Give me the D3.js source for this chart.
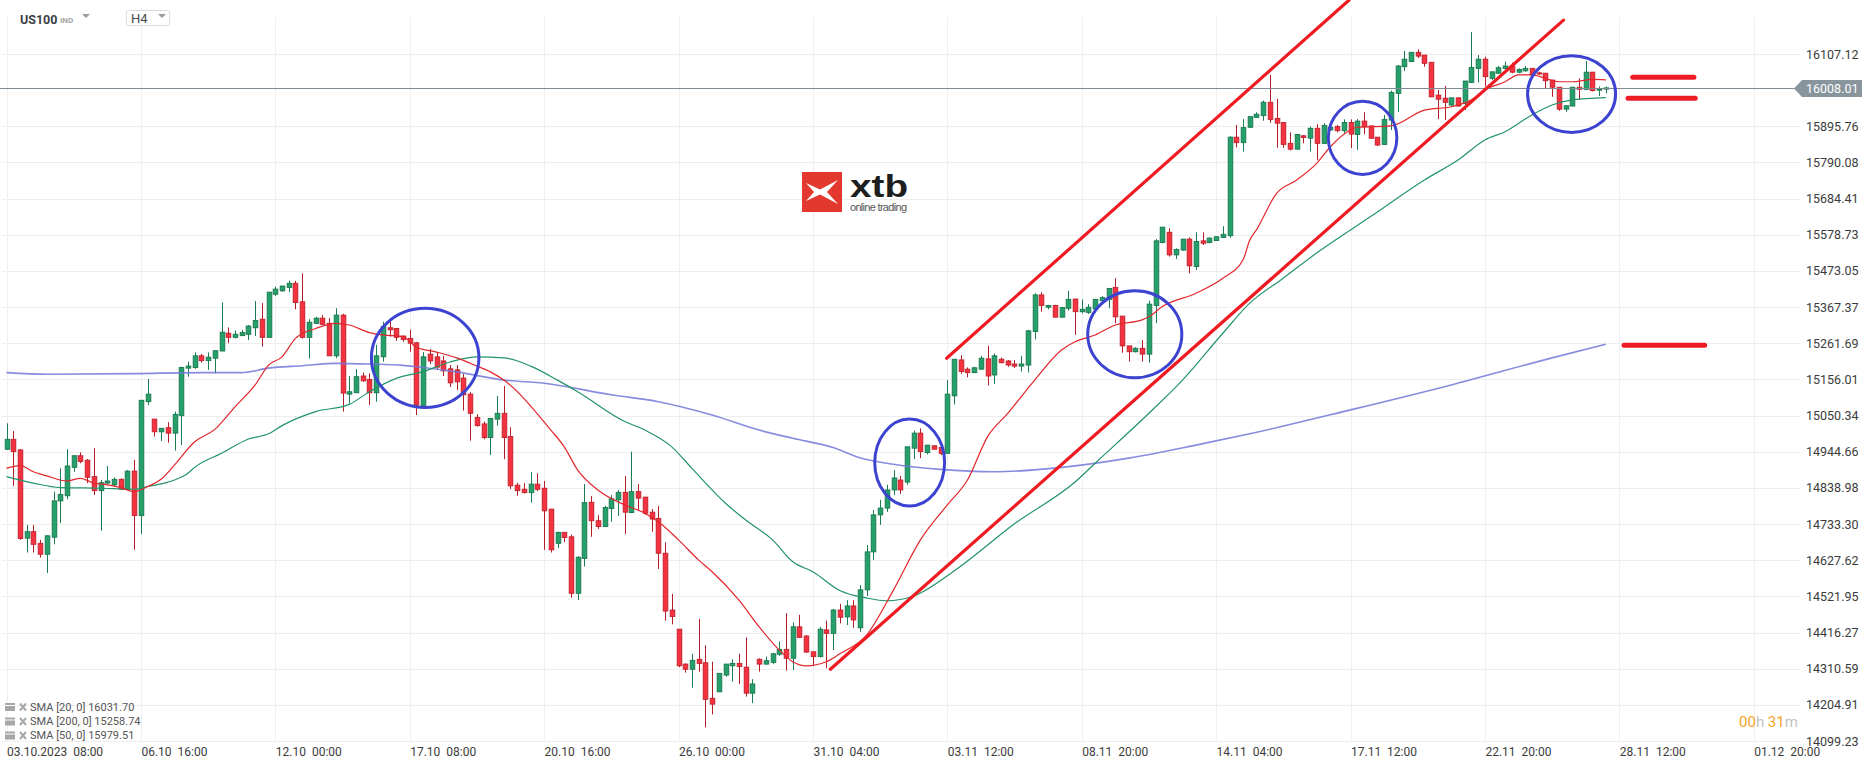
<!DOCTYPE html>
<meta charset="utf-8">
<style>
body { margin: 0; background: #fff; }
svg { display: block; font-family: Roboto, "Noto Sans", sans-serif; }
</style>
<svg width="1866" height="767"></svg>
<script src="https://cdn.jsdelivr.net/npm/d3@7"></script>
<script>

// price axis labels (the 16001.44 one is hidden behind the last price tag)
var priceTicks = [16107.12, 15895.76, 15790.08, 15684.41, 15578.73, 15473.05, 15367.37, 15261.69,
  15156.01, 15050.34, 14944.66, 14838.98, 14733.30, 14627.62, 14521.95, 14416.27, 14310.59, 14204.91, 14099.23];

// one label every 20 H4 candles
var timeLabels = ["03.10.2023  08:00", "06.10  16:00", "12.10  00:00", "17.10  08:00", "20.10  16:00",
  "26.10  00:00", "31.10  04:00", "03.11  12:00", "08.11  20:00", "14.11  04:00", "17.11  12:00",
  "22.11  20:00", "28.11  12:00", "01.12  20:00"];

var lastPrice = 16008.01;

// H4 candles [open, high, low, close]
var ohlc = [
  [14952,15028,14950,14981],[14981,15005,14845,14945],[14950,14952,14687,14691],[14692,14731,14650,14711],
  [14711,14731,14650,14674],[14677,14687,14635,14645],[14645,14700,14590,14699],[14695,14828,14674,14801],
  [14801,14896,14736,14820],[14816,14952,14806,14903],[14899,14933,14886,14933],[14933,14943,14911,14916],
  [14920,14923,14853,14870],[14872,14955,14818,14831],[14831,14862,14714,14854],[14853,14903,14850,14859],
  [14848,14870,14843,14864],[14864,14867,14833,14835],[14835,14891,14833,14888],[14888,14921,14658,14758],
  [14758,15095,14704,15095],[15091,15157,15081,15113],[15040,15040,14989,15003],[15003,15013,14976,15013],
  [15015,15031,14971,14999],[14999,15062,14948,15054],[15050,15193,14964,15191],[15189,15208,15164,15195],
  [15191,15235,15187,15225],[15225,15230,15205,15211],[15211,15235,15184,15221],[15218,15240,15174,15240],
  [15239,15381,15239,15294],[15291,15308,15262,15279],[15279,15299,15276,15288],[15284,15301,15283,15293],
  [15288,15315,15271,15312],[15307,15385,15283,15328],[15332,15379,15252,15279],[15279,15412,15279,15411],
  [15405,15427,15400,15420],[15415,15429,15412,15429],[15425,15445,15411,15437],[15437,15444,15361,15381],
  [15383,15466,15276,15279],[15279,15332,15217,15323],[15320,15339,15318,15335],[15335,15344,15315,15317],
  [15320,15335,15225,15225],[15225,15364,15218,15344],[15344,15348,15062,15116],[15113,15166,15086,15120],
  [15117,15186,15117,15164],[15166,15176,15149,15152],[15156,15174,15081,15117],[15117,15257,15091,15225],
  [15222,15325,15208,15310],[15307,15335,15281,15301],[15305,15305,15269,15279],[15283,15283,15266,15273],
  [15276,15301,15237,15262],[15263,15266,15052,15081],[15078,15236,15072,15222],[15230,15245,15201,15210],
  [15222,15236,15184,15192],[15210,15225,15166,15181],[15187,15198,15134,15146],[15184,15198,15125,15149],
  [15160,15172,15065,15111],[15113,15119,14977,15057],[15045,15054,15018,15021],[15026,15033,14981,14986],
  [14986,15042,14935,15042],[15040,15108,15021,15057],[15057,15137,14923,14986],[14989,15016,14836,14845],
  [14847,14854,14816,14831],[14835,14853,14823,14825],[14825,14885,14796,14850],[14850,14882,14830,14835],
  [14838,14859,14658,14772],[14777,14777,14650,14658],[14677,14711,14663,14709],[14709,14709,14680,14694],
  [14696,14703,14518,14531],[14531,14640,14511,14636],[14633,14850,14609,14796],[14797,14815,14696,14743],
  [14743,14759,14719,14726],[14726,14786,14725,14782],[14779,14818,14740,14807],[14804,14833,14757,14826],
  [14826,14874,14704,14768],[14767,14945,14765,14828],[14828,14850,14774,14809],[14812,14812,14760,14765],
  [14768,14777,14711,14748],[14750,14786,14602,14648],[14648,14680,14451,14479],[14482,14529,14440,14463],
  [14426,14426,14315,14319],[14324,14326,14299,14309],[14309,14354,14255,14335],[14338,14456,14302,14326],
  [14328,14379,14139,14221],[14224,14331,14177,14207],[14243,14297,14243,14297],[14292,14324,14287,14324],
  [14319,14338,14273,14326],[14326,14354,14266,14317],[14315,14402,14229,14239],[14239,14280,14210,14266],
  [14338,14341,14302,14324],[14324,14346,14322,14334],[14329,14357,14324,14354],[14353,14390,14348,14367],
  [14367,14473,14305,14341],[14341,14446,14307,14433],[14433,14468,14400,14402],[14406,14409,14357,14359],
  [14360,14360,14319,14346],[14346,14433,14343,14426],[14424,14451,14312,14414],[14414,14485,14365,14482],
  [14482,14500,14443,14461],[14462,14511,14438,14494],[14494,14511,14430,14453],[14430,14555,14418,14541],
  [14541,14672,14523,14652],[14652,14774,14628,14760],[14760,14804,14731,14780],[14780,14848,14769,14833],
  [14833,14891,14818,14868],[14862,14874,14821,14833],[14856,14959,14848,14959],[14955,15006,14923,14999],
  [14999,15013,14926,14945],[14942,14964,14937,14964],[14962,14963,14952,14952],[14957,14958,14935,14940],
  [14940,15154,14940,15113],[15108,15215,15083,15215],[15213,15227,15172,15179],[15186,15191,15162,15176],
  [15176,15193,15174,15190],[15186,15225,15184,15218],[15216,15254,15138,15166],[15169,15232,15143,15225],
  [15215,15220,15203,15205],[15210,15213,15193,15198],[15201,15213,15189,15195],[15195,15225,15179,15201],
  [15198,15301,15176,15298],[15296,15408,15273,15403],[15403,15411,15354,15372],[15367,15374,15361,15372],
  [15372,15374,15338,15338],[15338,15368,15336,15366],[15364,15415,15357,15390],[15391,15391,15286,15354],
  [15354,15390,15349,15361],[15352,15376,15347,15367],[15362,15390,15359,15390],[15386,15400,15383,15395],
  [15390,15422,15364,15422],[15425,15452,15320,15339],[15341,15341,15234,15254],[15254,15254,15208,15237],
  [15237,15250,15235,15247],[15247,15271,15208,15230],[15230,15386,15205,15376],[15372,15566,15320,15561],
  [15556,15601,15554,15601],[15586,15598,15515,15520],[15520,15539,15508,15536],[15534,15566,15532,15566],
  [15566,15571,15466,15488],[15486,15586,15476,15559],[15561,15586,15549,15554],[15556,15571,15554,15569],
  [15562,15573,15561,15573],[15571,15604,15569,15580],[15576,15867,15570,15864],[15864,15900,15834,15848],
  [15848,15917,15822,15892],[15893,15924,15891,15924],[15922,15937,15921,15931],[15927,15971,15912,15966],
  [15966,16046,15906,15916],[15919,15976,15833,15905],[15907,15908,15833,15843],[15846,15878,15825,15829],
  [15829,15873,15828,15872],[15868,15870,15846,15863],[15861,15895,15822,15890],[15890,15902,15797,15846],
  [15846,15905,15844,15898],[15885,15900,15882,15893],[15895,15900,15878,15883],[15883,15916,15875,15907],
  [15907,15916,15832,15873],[15872,15917,15827,15911],[15911,15937,15873,15895],[15897,15897,15859,15861],
  [15864,15864,15838,15841],[15843,15929,15841,15916],[15914,16000,15885,15995],[15992,16075,15938,16072],
  [16070,16116,16057,16092],[16085,16112,16084,16112],[16112,16121,16095,16101],[16104,16104,16070,16080],
  [16083,16083,15981,15982],[15987,16002,15917,15975],[15978,16014,15914,15966],[15958,15979,15955,15979],
  [15979,15980,15953,15955],[15963,16028,15943,16028],[16024,16171,16024,16068],[16065,16104,16024,16092],
  [16092,16099,16012,16041],[16036,16055,16031,16055],[16051,16072,16049,16067],[16065,16085,16062,16072],
  [16072,16082,16051,16054],[16054,16065,16051,16062],[16058,16072,16055,16065],[16065,16066,16041,16046],
  [16052,16055,16046,16049],[16051,16051,16005,16029],[16031,16031,15982,16010],[16010,16010,15941,15946],
  [15946,15956,15938,15956],[15955,16010,15955,16010],[16010,16036,15973,16004],[16004,16087,16002,16054],
  [16054,16054,15998,16000],[16002,16012,15984,16005],[16005,16012,15992,16008.01]
];

// moving averages as [candle index, price]
var sma20 = [[0,14896],[2,14904],[4,14886],[6,14874],[9,14859],[11,14867],[13,14853],[15,14848],[17,14840],
  [19,14828],[21,14843],[23,14864],[25,14906],[28,14974],[31,15010],[34,15076],[37,15140],[39,15198],
  [41,15222],[43,15276],[46,15305],[49,15320],[51,15315],[54,15293],[56,15286],[59,15281],[61,15250],
  [64,15236],[67,15219],[70,15195],[72,15178],[74,15154],[81,15008],[83,14959],[85,14891],[88,14833],
  [92,14789],[95,14765],[97,14740],[100,14687],[103,14628],[105,14594],[109,14511],[112,14433],[115,14365],
  [117,14331],[119,14319],[122,14331],[124,14354],[128,14409],[132,14541],[136,14687],[140,14789],
  [143,14862],[146,14989],[149,15057],[153,15154],[157,15242],[159,15266],[162,15286],[165,15315],
  [169,15330],[170,15339],[172,15369],[177,15408],[181,15452],[184,15505],[185,15563],[186,15593],
  [189,15700],[192,15739],[195,15788],[197,15836],[200,15885],[201,15893],[206,15897],[211,15943],
  [215,15953],[218,15973],[220,16002],[223,16026],[225,16046],[227,16046],[229,16036],[231,16026],
  [233,16026],[236,16033],[238,16031.70]];

var sma50 = [[0,14872],[4,14853],[8,14840],[14,14838],[19,14835],[21,14843],[25,14862],[27,14882],
  [28,14899],[32,14940],[36,14982],[39,14997],[41,15021],[46,15062],[51,15083],[54,15120],[58,15159],
  [62,15179],[66,15207],[70,15222],[74,15219],[78,15195],[82,15154],[85,15120],[92,15033],[95,15008],
  [99,14959],[102,14896],[107,14794],[110,14745],[114,14687],[117,14623],[120,14594],[124,14539],
  [128,14517],[131,14509],[135,14523],[141,14596],[150,14734],[159,14856],[162,14911],[170,15057],
  [175,15154],[181,15291],[185,15379],[190,15452],[195,15526],[200,15593],[203,15632],[211,15739],
  [216,15797],[220,15856],[223,15880],[227,15929],[230,15958],[233,15973],[238,15979.51]];

var sma200 = [[0,15176],[6,15171],[19,15173],[29,15176],[35,15176],[39,15189],[44,15196],[49,15203],
  [54,15201],[59,15197],[61,15193],[67,15178],[74,15154],[80,15145],[90,15111],[97,15091],[105,15052],
  [112,15008],[117,14984],[123,14957],[127,14927],[132,14908],[139,14893],[147,14886],[157,14899],
  [167,14926],[177,14964],[185,14997],[200,15067],[215,15140],[230,15219],[238,15258.74]];

var smaLegend = [["SMA [20, 0] 16031.70"], ["SMA [200, 0] 15258.74"], ["SMA [50, 0] 15979.51"]];

// hand drawn annotations: trend channel, marked zones and level dashes
var channelUpper = [[139.9, 15218], [199.8, 16265]];
var channelLower = [[122.6, 14309], [231.7, 16206]];
var zones = [ // [index, price, radius in candles, radius in price]
  [62.3, 15219, 8.0, 145], [134.4, 14913, 5.2, 127], [167.9, 15288, 7.0, 127],
  [201.8, 15862, 5.1, 107], [232.9, 15990, 6.55, 112]];
var levels = [[16039, 242, 251.1], [15978, 241.3, 251.3], [15256, 240.7, 252.7]];

var svg = d3.select("svg");
var x = d3.scaleLinear().domain([0, 260]).range([6.5, 1753.7]);
var y = d3.scaleLinear().domain([14099.23, 16107.12]).range([741, 54]);

// grid
svg.append("g").selectAll("line").data(priceTicks).enter().append("line")
    .attr("x1", 2).attr("x2", 1800)
    .attr("y1", function(d) { return Math.round(y(d)) + 0.5; })
    .attr("y2", function(d) { return Math.round(y(d)) + 0.5; })
    .attr("stroke", "#eeeeee");

svg.append("g").selectAll("line").data(d3.range(0, 261, 20)).enter().append("line")
    .attr("x1", function(d) { return Math.round(x(d)) + 0.5; })
    .attr("x2", function(d) { return Math.round(x(d)) + 0.5; })
    .attr("y1", 17).attr("y2", 742)
    .attr("stroke", "#efefef");

// axes
var yAxis = svg.append("g")
    .attr("transform", "translate(1806,0)")
    .call(d3.axisRight(y).tickValues(priceTicks).tickSize(0).tickPadding(0).tickFormat(d3.format(".2f")));
yAxis.select(".domain").remove();
yAxis.selectAll("text")
    .attr("font-family", "Roboto, sans-serif")
    .attr("font-size", 12.5)
    .attr("fill", "#3b3b3b");

var xAxis = svg.append("g")
    .attr("transform", "translate(0,741)")
    .call(d3.axisBottom(x).tickValues(d3.range(0, 261, 20)).tickSize(0).tickPadding(0)
      .tickFormat(function(d, k) { return timeLabels[k]; }));
xAxis.select(".domain").remove();
xAxis.selectAll("text")
    .attr("text-anchor", "start")
    .attr("y", 15).attr("dy", 0)
    .style("white-space", "pre")
    .attr("font-family", "Roboto, sans-serif")
    .attr("font-size", 12)
    .attr("fill", "#3b3b3b");

// candles
var up = { body: "#26a06b", edge: "#17774d", wick: "#1b7d54" };
var down = { body: "#f5323f", edge: "#c1202c", wick: "#b31d28" };

var candle = svg.append("g").selectAll("g")
    .data(ohlc).enter().append("g")
    .each(function(d, i) {
      var c = d[3] >= d[0] ? up : down;
      var g = d3.select(this);
      var cx = Math.round(x(i)) + 0.5;
      g.append("line")
          .attr("x1", cx).attr("x2", cx)
          .attr("y1", y(d[1])).attr("y2", y(d[2]))
          .attr("stroke", c.wick).attr("stroke-width", 1);
      var top = y(Math.max(d[0], d[3])), bot = y(Math.min(d[0], d[3]));
      g.append("rect")
          .attr("x", cx - 2.3).attr("width", 4.6)
          .attr("y", top).attr("height", Math.max(1.2, bot - top))
          .attr("fill", c.body).attr("stroke", c.edge).attr("stroke-width", 0.9);
    });

// moving averages
var line = d3.line()
    .x(function(d) { return x(d[0]); })
    .y(function(d) { return y(d[1]); })
    .curve(d3.curveMonotoneX);

svg.append("path").datum(sma200).attr("d", line)
    .attr("fill", "none").attr("stroke", "#7178d8").attr("stroke-width", 1.6).attr("opacity", 0.85);
svg.append("path").datum(sma50).attr("d", line)
    .attr("fill", "none").attr("stroke", "#23946a").attr("stroke-width", 1.2);
svg.append("path").datum(sma20).attr("d", line)
    .attr("fill", "none").attr("stroke", "#e3262b").attr("stroke-width", 1.2);

// last price line and tag
var py = Math.round(y(lastPrice)) + 0.5;
svg.append("line").attr("x1", 0).attr("x2", 1795).attr("y1", py).attr("y2", py)
    .attr("stroke", "#7e8b94").attr("stroke-width", 1);
svg.append("path")
    .attr("d", "M1794," + py + "L1802," + (py - 8.5) + "H1862V" + (py + 8.5) + "H1802Z")
    .attr("fill", "#89959d");
svg.append("text").attr("x", 1806).attr("y", py).attr("dy", "0.35em")
    .attr("font-size", 12.5).attr("fill", "#fff").text(d3.format(".2f")(lastPrice));

// annotations
svg.append("g").selectAll("line").data([channelUpper, channelLower]).enter().append("line")
    .attr("x1", function(d) { return x(d[0][0]); }).attr("y1", function(d) { return y(d[0][1]); })
    .attr("x2", function(d) { return x(d[1][0]); }).attr("y2", function(d) { return y(d[1][1]); })
    .attr("stroke", "#ef1b22").attr("stroke-width", 3.2).attr("stroke-linecap", "round");

svg.append("g").selectAll("line").data(levels).enter().append("line")
    .attr("x1", function(d) { return x(d[1]); }).attr("x2", function(d) { return x(d[2]); })
    .attr("y1", function(d) { return y(d[0]); }).attr("y2", function(d) { return y(d[0]); })
    .attr("stroke", "#ee1c24").attr("stroke-width", 5).attr("stroke-linecap", "round");

svg.append("g").selectAll("ellipse").data(zones).enter().append("ellipse")
    .attr("cx", function(d) { return x(d[0]); })
    .attr("cy", function(d) { return y(d[1]); })
    .attr("rx", function(d) { return x(d[0] + d[2]) - x(d[0]); })
    .attr("ry", function(d) { return y(d[1] - d[3]) - y(d[1]); })
    .attr("fill", "none").attr("stroke", "#3c43d1").attr("stroke-width", 3);

// legend for the moving averages
var leg = svg.append("g").selectAll("g").data(smaLegend).enter().append("g")
    .attr("transform", function(d, i) { return "translate(0," + [707, 721.5, 735.5][i] + ")"; });
leg.append("rect").attr("x", 5).attr("y", -4).attr("width", 10).attr("height", 8).attr("fill", "#a7a7a7");
leg.append("line").attr("x1", 5).attr("x2", 15).attr("y1", -1.5).attr("y2", -1.5).attr("stroke", "#fff").attr("stroke-width", 1);
leg.append("path").attr("d", "M20,-3.5L26,3.5M26,-3.5L20,3.5").attr("stroke", "#a7a7a7").attr("stroke-width", 2);
leg.append("text").attr("x", 30).attr("dy", "0.35em")
    .attr("font-size", 11).attr("fill", "#555").text(function(d) { return d[0]; });

// header
var head = svg.append("g");
head.append("text").attr("x", 20).attr("y", 24).attr("font-size", 12.5).attr("font-weight", "bold")
    .attr("fill", "#3a3f44").text("US100");
head.append("text").attr("x", 60).attr("y", 23).attr("font-size", 8).attr("font-weight", "bold")
    .attr("fill", "#a3a3a3").text("IND");
head.append("path").attr("d", "M82,14H90L86,18Z").attr("fill", "#9c9c9c");
head.append("rect").attr("x", 126.5).attr("y", 10.5).attr("width", 43).attr("height", 15).attr("rx", 2)
    .attr("fill", "#fff").attr("stroke", "#dcdcdc");
head.append("text").attr("x", 131).attr("y", 23).attr("font-size", 13).attr("fill", "#4a4a4a").text("H4");
head.append("path").attr("d", "M158,14H166L162,18Z").attr("fill", "#9c9c9c");

// candle countdown
var cd = svg.append("text").attr("x", 1739).attr("y", 727).attr("font-size", 15);
cd.append("tspan").attr("fill", "#f6a21e").text("00");
cd.append("tspan").attr("fill", "#c4c4c4").text("h ");
cd.append("tspan").attr("fill", "#f6a21e").text("31");
cd.append("tspan").attr("fill", "#c4c4c4").text("m");

// xtb watermark
var logo = svg.append("g").attr("transform", "translate(802,172)");
logo.append("rect").attr("width", 40).attr("height", 40).attr("fill", "#e3382d");
logo.append("path").attr("d", "M4,11L18,17.5L36,8L25,20L36,32L18,22.5L4,29L12,20Z").attr("fill", "#fff");
logo.append("text").attr("x", 48).attr("y", 25).attr("font-family", "'Liberation Sans', Arial, sans-serif")
    .attr("font-size", 32).attr("font-weight", "bold").attr("fill", "#1e1e1e")
    .attr("textLength", 58).attr("lengthAdjust", "spacingAndGlyphs").text("xtb");
logo.append("text").attr("x", 48).attr("y", 39).attr("font-family", "'Liberation Sans', Arial, sans-serif")
    .attr("font-size", 11).attr("fill", "#555").attr("textLength", 57).text("online trading");

</script>
